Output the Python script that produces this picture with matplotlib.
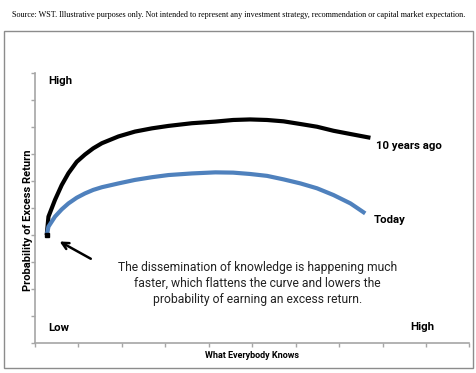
import matplotlib.pyplot as plt
from matplotlib.patches import Rectangle

# curves (x: what everybody knows, y: probability of excess return)
ten_years_x = [0.27, 0.31, 0.46, 0.615, 0.77, 0.96, 1.15, 1.34, 1.54, 1.92, 2.30, 2.69, 3.07, 3.61,
               4.15, 4.56, 4.95, 5.34, 5.72, 6.11, 6.49, 6.87, 7.26, 7.72]
ten_years_y = [4.00, 4.68, 5.30, 5.85, 6.29, 6.71, 6.98, 7.21, 7.40, 7.65, 7.83, 7.95, 8.04, 8.14,
               8.20, 8.26, 8.28, 8.26, 8.21, 8.11, 8.01, 7.86, 7.74, 7.60]

today_x = [0.27, 0.31, 0.46, 0.615, 0.77, 0.96, 1.15, 1.34, 1.54, 1.92, 2.30, 2.69, 3.07, 3.61,
           4.15, 4.56, 4.95, 5.34, 5.72, 6.11, 6.49, 6.87, 7.26, 7.60]
today_y = [4.00, 4.31, 4.68, 4.95, 5.17, 5.38, 5.54, 5.67, 5.77, 5.91, 6.04, 6.14, 6.22, 6.28,
           6.32, 6.31, 6.26, 6.19, 6.06, 5.91, 5.73, 5.48, 5.17, 4.80]

series_labels = ['10 years ago', 'Today']
source_note = ('Source: WST. Illustrative purposes only. Not intended to represent any investment strategy, '
               'recommendation or capital market expectation.')
note = ('The dissemination of knowledge is happening much\n'
        'faster, which flattens the curve and lowers the\n'
        'probability of earning an excess return.')

narrow = ['Liberation Sans Narrow', 'Roboto', 'DejaVu Sans']
grey = '#a6a6a6'

fig = plt.figure(figsize=(4.77, 3.73), dpi=100)
fig.patches.append(Rectangle((4 / 477, 5 / 373), 469 / 477, 337 / 373, transform=fig.transFigure,
                             fill=False, edgecolor='#8c8c8c', linewidth=1.0))
fig.text(12 / 477, 1 - 15 / 373, source_note, family='Liberation Serif', fontsize=5.85,
         ha='left', va='center', color='black')

ax = fig.add_axes([35 / 477, 30 / 373, 434.5 / 477, 270 / 373])
ax.plot(ten_years_x, ten_years_y, color='black', lw=3, solid_capstyle='butt', solid_joinstyle='round')
ax.plot(today_x, today_y, color='#4f81bd', lw=3, solid_capstyle='butt', solid_joinstyle='round')
ax.plot([ten_years_x[0]], [ten_years_y[0]], 's', color='black', ms=2.5)

ax.set_xlim(0, 10)
ax.set_ylim(0, 10)
ax.set_xticks(range(11))
ax.set_yticks(range(11))
ax.set_xticklabels([])
ax.set_yticklabels([])
ax.tick_params(color=grey, length=3, width=1)
for s in ['top', 'right']:
    ax.spines[s].set_visible(False)
for s in ['left', 'bottom']:
    ax.spines[s].set_color(grey)
    ax.spines[s].set_linewidth(1.2)

lab = dict(family=narrow, fontweight='bold', fontsize=8.2, color='black')
ax.text(ten_years_x[-1] + 0.12, ten_years_y[-1] - 0.3, series_labels[0], ha='left', va='center', **lab)
ax.text(today_x[-1] + 0.2, today_y[-1] - 0.25, series_labels[1], ha='left', va='center', **lab)
ax.text(0.3, 9.7, 'High', ha='left', va='center', **lab)
ax.text(0.3, 0.55, 'Low', ha='left', va='center', **lab)
ax.text(9.2, 0.6, 'High', ha='right', va='center', **lab)

# axis titles placed in figure pixels
fig.text(28 / 477, 1 - 220 / 373, 'Probability of Excess Return', rotation=90, ha='center', va='center',
         family=narrow, fontweight='bold', fontsize=8)
fig.text(252 / 477, 1 - 355 / 373, 'What Everybody Knows', ha='center', va='center',
         family=narrow, fontweight='bold', fontsize=6.5)

ax.annotate('', xy=(0.51, 3.81), xytext=(1.34, 3.07),
            arrowprops=dict(arrowstyle='->', color='black', lw=1.8, mutation_scale=12))
ax.text(5.12, 2.22, note, ha='center', va='center', family='Roboto', fontsize=8.7,
        color='#222222', linespacing=1.3)

fig.savefig('out.png', dpi=100)
